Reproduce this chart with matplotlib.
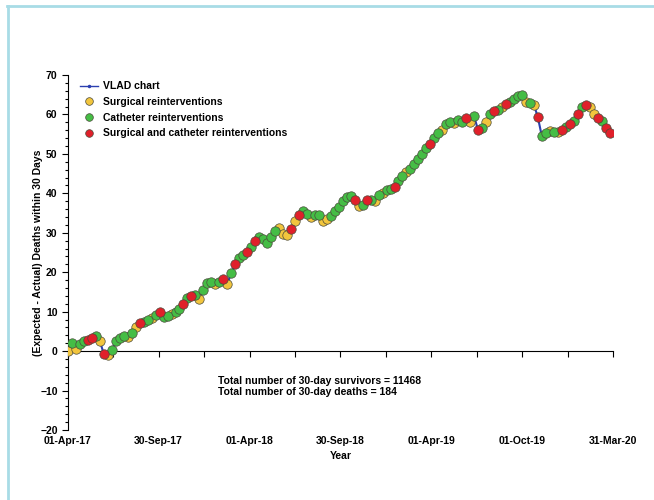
import datetime as dt

import matplotlib
matplotlib.use("Agg")
import matplotlib.dates as mdates
import matplotlib.pyplot as plt
import numpy as np
from matplotlib.lines import Line2D
from matplotlib.ticker import MultipleLocator

plt.rcParams["font.family"] = ["Liberation Sans", "DejaVu Sans"]
plt.rcParams["font.weight"] = "bold"

START = dt.date(2017, 4, 1)
END = dt.date(2020, 3, 31)

# days since 01-Apr-17
days = [
    0, 8, 16, 24, 32, 40, 48, 56, 64, 72,
    80, 88, 96, 104, 112, 120, 128, 136, 144, 152,
    160, 168, 176, 184, 192, 200, 208, 216, 224, 232,
    240, 248, 256, 264, 272, 280, 288, 296, 304, 312,
    320, 328, 336, 344, 352, 360, 368, 376, 384, 392,
    400, 408, 416, 424, 432, 440, 448, 456, 464, 472,
    480, 488, 496, 504, 512, 520, 528, 536, 544, 552,
    560, 568, 576, 584, 592, 600, 608, 616, 624, 632,
    640, 648, 656, 664, 672, 680, 688, 696, 704, 712,
    720, 728, 736, 744, 752, 760, 768, 776, 784, 792,
    800, 808, 816, 824, 832, 840, 848, 856, 864, 872,
    880, 888, 896, 904, 912, 920, 928, 936, 944, 952,
    960, 968, 976, 984, 992, 1000, 1008, 1016, 1024, 1032,
    1040, 1048, 1056, 1064, 1072, 1080, 1088,
]

# (expected - actual) deaths
vlad = [
    0.0, 2.0, 0.5, 1.8, 2.5, 2.8, 3.2, 3.8, 2.6, -0.8,
    -1.0, 0.3, 2.5, 3.2, 3.8, 3.5, 4.6, 6.0, 7.1, 7.4,
    7.8, 8.5, 9.2, 10.0, 8.6, 8.8, 9.5, 10.0, 10.8, 12.0,
    13.4, 14.0, 14.2, 13.2, 15.5, 17.3, 17.5, 17.0, 17.5, 18.2,
    17.0, 19.8, 22.0, 23.5, 24.3, 25.0, 26.5, 28.0, 29.0, 28.5,
    27.4, 29.0, 30.5, 31.3, 29.8, 29.5, 31.0, 33.0, 34.5, 35.5,
    34.8, 33.9, 34.4, 34.5, 33.0, 33.5, 34.2, 35.4, 36.5, 38.0,
    39.0, 39.3, 38.3, 36.8, 37.0, 38.3, 38.3, 38.0, 39.5, 40.2,
    40.8, 41.2, 41.6, 43.0, 44.5, 45.5, 46.2, 47.5, 48.6, 50.0,
    51.5, 52.5, 54.0, 55.3, 56.0, 57.5, 58.2, 57.8, 58.6, 58.0,
    59.0, 58.0, 59.5, 56.0, 56.5, 58.0, 60.0, 60.8, 61.0, 61.8,
    62.6, 63.2, 64.0, 64.8, 65.0, 63.2, 63.0, 62.5, 59.3, 54.5,
    55.3, 55.8, 55.5, 55.5, 56.0, 56.8, 57.5, 58.3, 60.2, 62.0,
    62.4, 61.8, 60.0, 59.0, 58.3, 56.5, 55.3,
]

# reintervention type per point: S surgical, C catheter, B both
kinds = (
    "SCSCCBBCSB" "SCCCCSCSBC" "CSCBCCSCCB" "CBCSCCCSCB" "SCBCCBCBCC"
    "CCCSSSBSBC" "CSCCSSCCCC" "CCBSCBCSCS" "CCBCCSCCCC" "CBCCSCCSCC"
    "BSCBCSCBCS" "BCCCCSCSBC" "CSCSBCBCBC" "BSSBCBB"
)

kind_styles = {
    "S": ("Surgical reinterventions", "#F2C53D"),
    "C": ("Catheter reinterventions", "#45BD45"),
    "B": ("Surgical and catheter reinterventions", "#E0202A"),
}

tick_dates = [
    "01-Apr-17", "01-Jul-17", "30-Sep-17", "31-Dec-17", "01-Apr-18",
    "01-Jul-18", "30-Sep-18", "31-Dec-18", "01-Apr-19", "01-Jul-19",
    "01-Oct-19", "31-Dec-19", "31-Mar-20",
]
label_dates = tick_dates[::2]

x = mdates.date2num([START + dt.timedelta(days=d) for d in days])
y = np.array(vlad)
k = np.array(list(kinds))

fig = plt.figure(figsize=(6.54, 5.0), dpi=100)
ax = fig.add_axes([68 / 654, 70 / 500, 545 / 654, 355 / 500])

ax.plot(x, y, color="#2B3FB0", lw=1.5, marker=".", ms=3, zorder=2)
for code, (name, col) in kind_styles.items():
    m = k == code
    ax.scatter(x[m], y[m], s=46, color=col, edgecolor="#4a4a3a",
               linewidth=0.5, zorder=3)

ax.set_xlim(mdates.date2num(START), mdates.date2num(END))
ax.set_ylim(-20, 70)

FS = 7.5
ax.set_yticks(range(-20, 71, 10))
ax.yaxis.set_minor_locator(MultipleLocator(2))
ax.tick_params(axis="y", which="major", length=4, width=0.8, labelsize=FS)
ax.tick_params(axis="y", which="minor", length=2.5, width=0.8)
ax.set_ylabel("(Expected - Actual) Deaths within 30 Days", fontsize=FS,
              fontweight="bold")
ax.yaxis.set_label_coords(-0.046, 0.5)

ax.spines["top"].set_visible(False)
ax.spines["right"].set_visible(False)
ax.spines["bottom"].set_position(("data", 0))
ax.spines["left"].set_linewidth(0.8)
ax.spines["bottom"].set_linewidth(0.8)

to_num = lambda s: mdates.date2num(dt.datetime.strptime(s, "%d-%b-%y"))
ax.set_xticks([to_num(s) for s in tick_dates])
ax.set_xticklabels([])
ax.tick_params(axis="x", length=4, width=0.8, direction="out")

sec = ax.secondary_xaxis("bottom")
sec.set_xticks([to_num(s) for s in label_dates])
sec.set_xticklabels(label_dates)
sec.tick_params(length=0, pad=4, labelsize=FS)
sec.spines["bottom"].set_visible(False)
sec.set_xlabel("Year", fontsize=FS, fontweight="bold", labelpad=4)

handles = [Line2D([], [], color="#2B3FB0", lw=1, marker=".", ms=3)]
labels = ["VLAD chart"]
for name, col in kind_styles.values():
    handles.append(Line2D([], [], ls="", marker="o", ms=5.5, color=col,
                          markeredgecolor="#4a4a3a", markeredgewidth=0.5))
    labels.append(name)
ax.legend(handles, labels, loc="upper left", bbox_to_anchor=(0.01, 1.0),
          frameon=False, prop={"size": FS, "weight": "bold"},
          handlelength=1.8, handletextpad=0.4, labelspacing=0.55,
          borderaxespad=0.2)

fig.text(218 / 654, 1 - 376 / 500,
         "Total number of 30-day survivors = 11468\n"
         "Total number of 30-day deaths = 184",
         fontsize=FS, fontweight="bold", va="top", ha="left", linespacing=1.1)

# light blue frame, top and left
frame = "#A8DCE6"
fig.add_artist(Line2D([7 / 654, 1], [1 - 6 / 500] * 2, color=frame, lw=2,
                      transform=fig.transFigure))
fig.add_artist(Line2D([8 / 654] * 2, [0, 1 - 6 / 500], color=frame, lw=2,
                      transform=fig.transFigure))

fig.savefig("out.png", dpi=100)
